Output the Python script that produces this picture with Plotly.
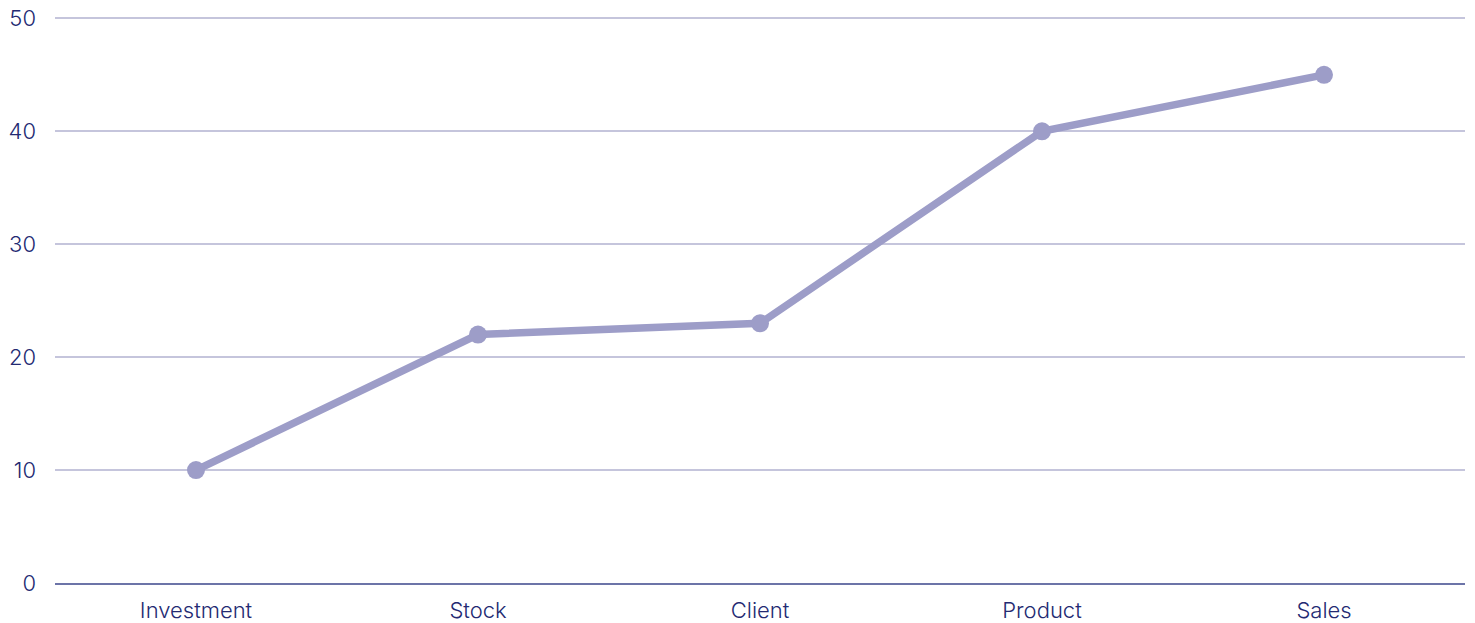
import plotly.graph_objects as go

categories = ["Investment", "Stock", "Client", "Product", "Sales"]
values = [10, 22, 23, 40, 45]
y_ticks = [0, 10, 20, 30, 40, 50]

fig = go.Figure(go.Scatter(
    x=categories, y=values, mode="lines+markers",
    line=dict(color="#9d9dc8", width=7.5),
    marker=dict(color="#9d9dc8", size=18),
    hoverinfo="x+y",
))

fig.update_layout(
    width=1467, height=615,
    margin=dict(l=47, r=10, t=7, b=40, autoexpand=False),
    paper_bgcolor="white", plot_bgcolor="white",
    font=dict(family="Inter", size=22, color="#232a72", weight=300),
    showlegend=False,
)
fig.update_xaxes(
    type="category", range=[-0.5, 4.5], automargin=False,
    showgrid=False, showline=True, linecolor="#6c74a8", linewidth=2,
    ticks="", ticklabelstandoff=7, ticklabeloverflow="allow",
    tickfont=dict(family="Inter", size=22, color="#232a72", weight=300),
)
fig.update_yaxes(
    range=[0, 50.3], tickvals=y_ticks, automargin=False,
    showgrid=True, gridcolor="#c5c5dc", gridwidth=1.5,
    zeroline=False, showline=False, ticks="",
    ticklabelstandoff=18, ticklabeloverflow="allow",
    tickfont=dict(family="Inter", size=22, color="#232a72", weight=300),
)

fig.write_html("out.html")
